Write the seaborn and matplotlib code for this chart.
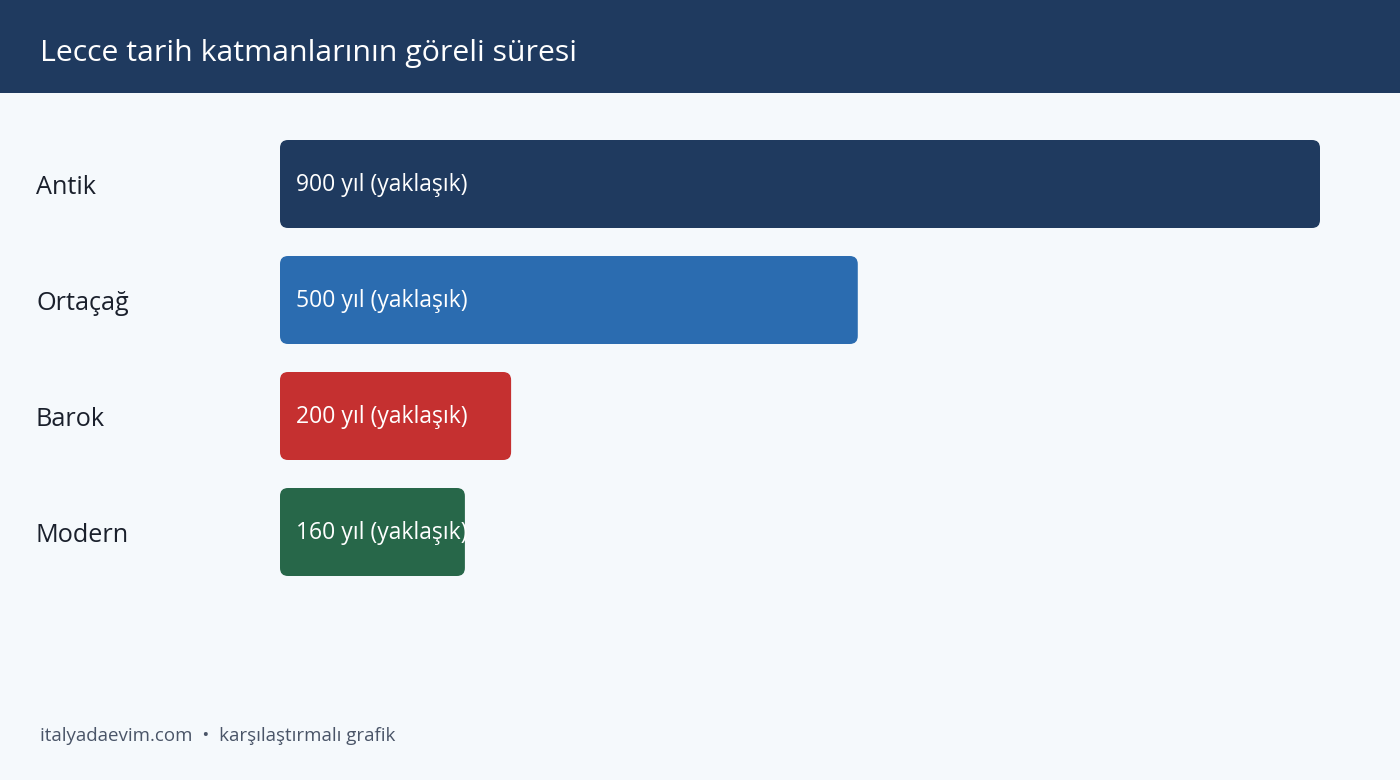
import matplotlib
matplotlib.use("Agg")
import matplotlib.pyplot as plt
from matplotlib.patches import Rectangle, FancyBboxPatch
import seaborn as sns

# data
categories = ["Antik", "Ortaçağ", "Barok", "Modern"]
years = [900, 500, 200, 160]
labels = ["900 yıl (yaklaşık)", "500 yıl (yaklaşık)", "200 yıl (yaklaşık)", "160 yıl (yaklaşık)"]
colors = ["#1f3a5f", "#2b6cb0", "#c53030", "#276749"]

sns.set_theme(style="white")
plt.rcParams['font.family'] = ['Open Sans', 'DejaVu Sans']

W, H = 1400, 780
bg = "#f5f9fc"
fig = plt.figure(figsize=(14, 7.8), dpi=100, facecolor=bg)

# header band
fig.patches.append(Rectangle((0, 1 - 93 / H), 1, 93 / H, transform=fig.transFigure,
                             facecolor="#1f3a5f", edgecolor="none", zorder=0))
fig.text(40 / W, 1 - 54 / H, "Lecce tarih katmanlarının göreli süresi",
         color="white", fontsize=21.8, va="center", ha="left")

ax = fig.add_axes([280 / W, 1 - 590 / H, 1040 / W, 464 / H])
ax.set_facecolor(bg)

sns.barplot(x=years, y=categories, hue=categories, palette=colors, orient="h",
            width=88 / 116, saturation=1, legend=False, ax=ax)

ax.set_xlim(0, 900)
ax.set_ylim(3.5, -0.5)

# swap the plain bars for rounded ones
px_x = 1040 / 900
px_y = 116
r = 8 / px_x
for i, p in enumerate(list(ax.patches)):
    x0, y0 = p.get_x(), p.get_y()
    w, h = p.get_width(), p.get_height()
    fc = p.get_facecolor()
    p.remove()
    rb = FancyBboxPatch((x0, y0), w, h,
                        boxstyle=f"round,pad=0,rounding_size={r}",
                        mutation_aspect=px_x / px_y,
                        facecolor=fc, edgecolor="none")
    ax.add_patch(rb)
    t = ax.annotate(labels[i], xy=(0, y0 + h / 2), xytext=(16 * 72 / 100, -1),
                    textcoords="offset points", color="white", fontsize=16.5,
                    va="center", ha="left")
    t.set_clip_path(rb)

for s in ax.spines.values():
    s.set_visible(False)
ax.set_xticks([])
ax.set_xlabel("")
ax.set_ylabel("")
ax.set_yticks(range(len(categories)))
ax.set_yticklabels(categories, fontsize=18.2, color="#1a202c")
ax.tick_params(axis="y", length=0, pad=(280 - 36) * 72 / 100)
for lab in ax.get_yticklabels():
    lab.set_horizontalalignment("left")

fig.text(40 / W, 1 - 736 / H, "italyadaevim.com  •  karşılaştırmalı grafik",
         color="#4a5568", fontsize=13.5, va="center", ha="left")

fig.savefig("out.png", dpi=100, facecolor=bg)
